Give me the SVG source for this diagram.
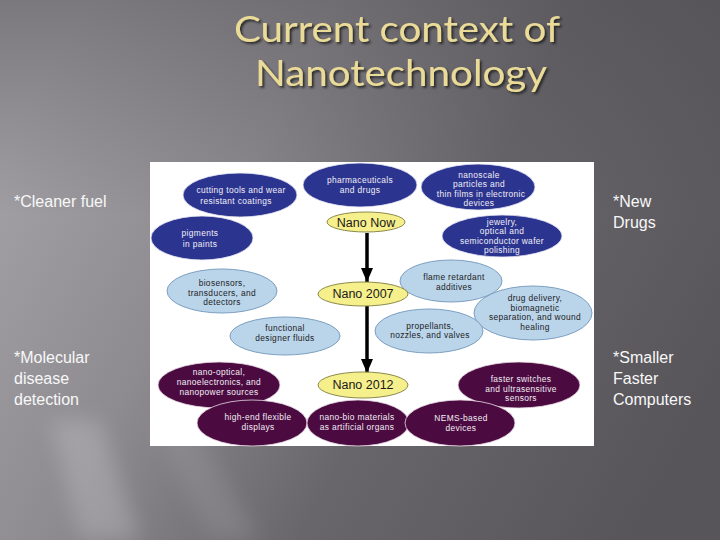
<svg xmlns="http://www.w3.org/2000/svg" width="720" height="540" viewBox="0 0 720 540">
  <defs>
    <linearGradient id="bg" x1="0" y1="0.3" x2="1" y2="0.7">
      <stop offset="0" stop-color="#a2a0a5"/>
      <stop offset="0.3" stop-color="#8d8b90"/>
      <stop offset="0.6" stop-color="#68666b"/>
      <stop offset="1" stop-color="#57555a"/>
    </linearGradient>
    <linearGradient id="topdark" x1="0" y1="0" x2="0" y2="1">
      <stop offset="0" stop-color="#4a484d" stop-opacity="0.45"/>
      <stop offset="0.4" stop-color="#4a484d" stop-opacity="0"/>
    </linearGradient>
    <filter id="blur" x="-20%" y="-20%" width="140%" height="140%">
      <feGaussianBlur stdDeviation="10"/>
    </filter>
    <filter id="shadow" x="-10%" y="-20%" width="130%" height="150%">
      <feDropShadow dx="2" dy="2" stdDeviation="1" flood-color="#222222" flood-opacity="0.85"/>
    </filter>
    <marker id="arrow" viewBox="0 0 14 12" refX="14" refY="6" markerWidth="14" markerHeight="12" markerUnits="userSpaceOnUse" orient="auto">
      <path d="M0,0 L14,6 L0,12 Z" fill="#000000"/>
    </marker>
    <style>
      .navy { fill: #2b3590; stroke: #e8e8f4; stroke-width: 0.8; }
      .purple { fill: #4b0a40; stroke: #e8dce6; stroke-width: 0.8; }
      .light { fill: #bad4ea; stroke: #7c9fc2; stroke-width: 1; }
      .yellow { fill: #f5ef8c; stroke: #8c8a4a; stroke-width: 1; }
      .tw { font-family: "Liberation Sans", Arial, sans-serif; font-size: 8.4px; letter-spacing: 0.35px; fill: #f2eef6; text-anchor: middle; }
      .td { font-family: "Liberation Sans", Arial, sans-serif; font-size: 8.4px; letter-spacing: 0.35px; fill: #1c1c24; text-anchor: middle; }
      .tn { font-family: "Liberation Sans", Arial, sans-serif; font-size: 12.5px; fill: #1a1a1a; text-anchor: middle; }
      .side { font-family: "Liberation Sans", Arial, sans-serif; font-size: 16px; fill: #f8f8f8; }
      .title { font-family: Lato, "Open Sans", sans-serif; font-size: 37px; fill: #eadb98; }
      .conn { stroke: #000000; stroke-width: 3.5; fill: none; }
    </style>
  </defs>

  <!-- background -->
  <rect x="0" y="0" width="720" height="540" fill="url(#bg)"/>
  <rect x="0" y="0" width="720" height="540" fill="url(#topdark)"/>
  <g filter="url(#blur)" opacity="0.35">
    <polygon points="50,420 100,420 140,540 80,540" fill="#c8c6cb"/>
    <polygon points="150,420 190,420 260,540 210,540" fill="#9c9a9f"/>
  </g>

  <!-- title -->
  <g id="title" filter="url(#shadow)">
    <text class="title" x="234" y="42" textLength="326" lengthAdjust="spacingAndGlyphs">Current context of</text>
    <text class="title" x="255" y="86" textLength="292" lengthAdjust="spacingAndGlyphs">Nanotechnology</text>
  </g>

  <!-- side texts -->
  <g id="side-left-top"><text class="side" x="14" y="207">*Cleaner fuel</text></g>
  <g id="side-left-bottom">
    <text class="side" x="14" y="363">*Molecular</text>
    <text class="side" x="14" y="384">disease</text>
    <text class="side" x="14" y="405">detection</text>
  </g>
  <g id="side-right-top">
    <text class="side" x="613" y="207">*New</text>
    <text class="side" x="613" y="228">Drugs</text>
  </g>
  <g id="side-right-bottom">
    <text class="side" x="613" y="363">*Smaller</text>
    <text class="side" x="613" y="384">Faster</text>
    <text class="side" x="613" y="405">Computers</text>
  </g>

  <!-- figure panel -->
  <rect id="panel" x="150" y="162" width="444" height="284" fill="#ffffff"/>

  <!-- navy nodes -->
  <g id="n-cutting">
    <ellipse class="navy" cx="240" cy="195" rx="57" ry="22"/>
    <text class="tw" x="241" y="193">cutting tools and wear</text>
    <text class="tw" x="236" y="204">resistant coatings</text>
  </g>
  <g id="n-pigments">
    <ellipse class="navy" cx="202" cy="238" rx="51" ry="22"/>
    <text class="tw" x="200" y="236">pigments</text>
    <text class="tw" x="200" y="247">in paints</text>
  </g>
  <g id="n-pharma">
    <ellipse class="navy" cx="360" cy="185" rx="57" ry="22"/>
    <text class="tw" x="360" y="183">pharmaceuticals</text>
    <text class="tw" x="360" y="193">and drugs</text>
  </g>
  <g id="n-nanoscale">
    <ellipse class="navy" cx="478" cy="187" rx="57" ry="23"/>
    <text class="tw" x="479" y="177.5">nanoscale</text>
    <text class="tw" x="479" y="187">particles and</text>
    <text class="tw" x="481" y="196.5">thin films in electronic</text>
    <text class="tw" x="479" y="206">devices</text>
  </g>
  <g id="n-jewelry">
    <ellipse class="navy" cx="502" cy="236" rx="60" ry="21"/>
    <text class="tw" x="502" y="224.5">jewelry,</text>
    <text class="tw" x="502" y="234">optical and</text>
    <text class="tw" x="502" y="243.5">semiconductor wafer</text>
    <text class="tw" x="502" y="253">polishing</text>
  </g>

  <!-- light blue nodes -->
  <g id="n-biosensors">
    <ellipse class="light" cx="222" cy="291" rx="55" ry="22"/>
    <text class="td" x="222" y="286">biosensors,</text>
    <text class="td" x="222" y="295.5">transducers, and</text>
    <text class="td" x="222" y="305">detectors</text>
  </g>
  <g id="n-fluids">
    <ellipse class="light" cx="285" cy="336" rx="55" ry="19"/>
    <text class="td" x="285" y="331">functional</text>
    <text class="td" x="285" y="341">designer fluids</text>
  </g>
  <g id="n-drug">
    <ellipse class="light" cx="533" cy="313" rx="59" ry="27"/>
    <text class="td" x="535" y="301">drug delivery,</text>
    <text class="td" x="535" y="310.5">biomagnetic</text>
    <text class="td" x="535" y="320">separation, and wound</text>
    <text class="td" x="535" y="329.5">healing</text>
  </g>
  <g id="n-flame">
    <ellipse class="light" cx="451" cy="281" rx="51" ry="21"/>
    <text class="td" x="454" y="280">flame retardant</text>
    <text class="td" x="454" y="290">additives</text>
  </g>
  <g id="n-propellants">
    <ellipse class="light" cx="429" cy="331" rx="54" ry="22"/>
    <text class="td" x="430" y="328.5">propellants,</text>
    <text class="td" x="430" y="338">nozzles, and valves</text>
  </g>

  <!-- purple nodes -->
  <g id="n-nanooptical">
    <ellipse class="purple" cx="219" cy="385" rx="61" ry="23"/>
    <text class="tw" x="219" y="375">nano-optical,</text>
    <text class="tw" x="219" y="385">nanoelectronics, and</text>
    <text class="tw" x="219" y="395">nanopower sources</text>
  </g>
  <g id="n-faster">
    <ellipse class="purple" cx="519" cy="385" rx="61" ry="23"/>
    <text class="tw" x="521" y="382">faster switches</text>
    <text class="tw" x="521" y="391.5">and ultrasensitive</text>
    <text class="tw" x="521" y="401">sensors</text>
  </g>
  <g id="n-displays">
    <ellipse class="purple" cx="252" cy="423" rx="55" ry="23"/>
    <text class="tw" x="258" y="420">high-end flexible</text>
    <text class="tw" x="258" y="430">displays</text>
  </g>
  <g id="n-nanobio">
    <ellipse class="purple" cx="358" cy="423" rx="51" ry="23"/>
    <text class="tw" x="357" y="420">nano-bio materials</text>
    <text class="tw" x="357" y="430">as artificial organs</text>
  </g>
  <g id="n-nems">
    <ellipse class="purple" cx="460" cy="423" rx="55" ry="23"/>
    <text class="tw" x="461" y="421">NEMS-based</text>
    <text class="tw" x="461" y="431">devices</text>
  </g>

  <!-- connectors -->
  <g id="connectors">
    <line class="conn" x1="367" y1="233" x2="367" y2="282" marker-end="url(#arrow)"/>
    <line class="conn" x1="367" y1="306" x2="367" y2="373" marker-end="url(#arrow)"/>
  </g>

  <!-- yellow timeline nodes -->
  <g id="n-now">
    <ellipse class="yellow" cx="366" cy="222" rx="39" ry="10"/>
    <text class="tn" x="366" y="227">Nano Now</text>
  </g>
  <g id="n-2007">
    <ellipse class="yellow" cx="363" cy="294" rx="45" ry="12"/>
    <text class="tn" x="363" y="298">Nano 2007</text>
  </g>
  <g id="n-2012">
    <ellipse class="yellow" cx="363" cy="385" rx="45" ry="13"/>
    <text class="tn" x="363" y="389">Nano 2012</text>
  </g>
</svg>
